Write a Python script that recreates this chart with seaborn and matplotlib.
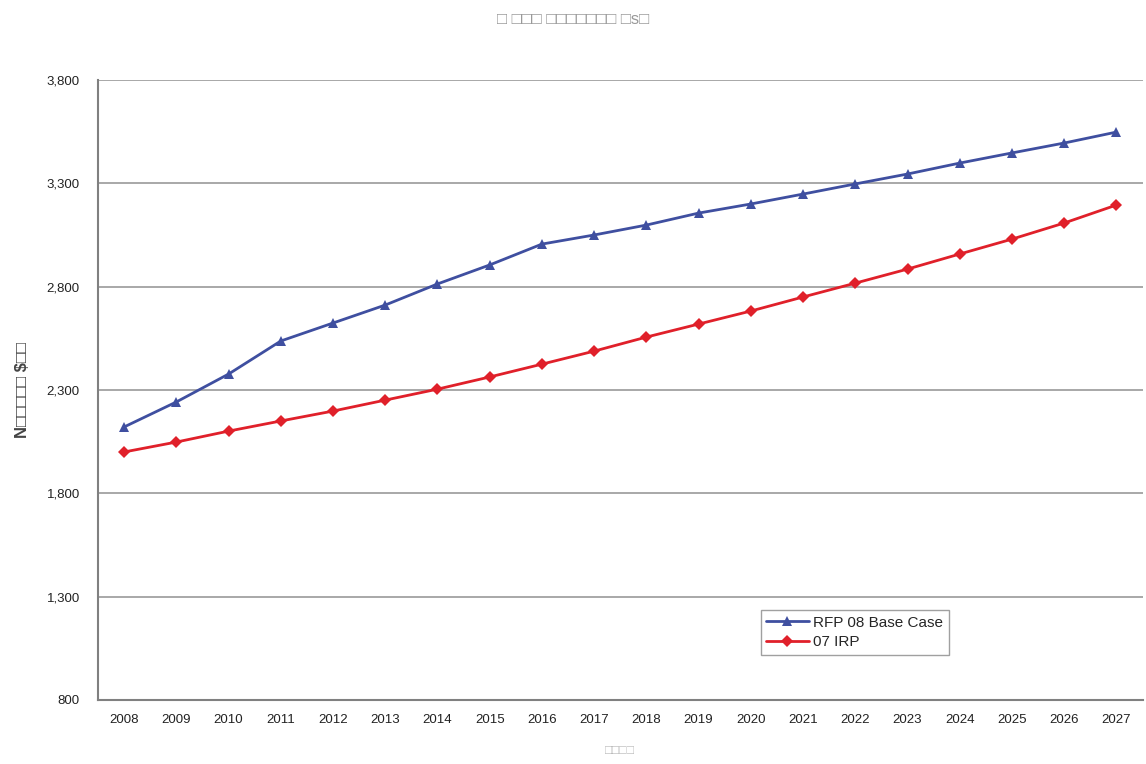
import matplotlib
matplotlib.use("Agg")
import matplotlib.pyplot as plt
import seaborn as sns
import pandas as pd

years = list(range(2008, 2028))
rfp08_base = [2121, 2242, 2377, 2537, 2624, 2711, 2813, 2905, 3006, 3050,
              3098, 3156, 3200, 3248, 3297, 3345, 3398, 3447, 3495, 3548]
irp07 = [2000, 2048, 2101, 2150, 2198, 2251, 2304, 2363, 2425, 2488,
         2556, 2619, 2682, 2750, 2817, 2885, 2958, 3030, 3108, 3195]
series_names = ["RFP 08 Base Case", "07 IRP"]
y_ticks = [800, 1300, 1800, 2300, 2800, 3300, 3800]
title_text = "\u25a1 \u25a1\u25a1\u25a1 \u25a1\u25a1\u25a1\u25a1\u25a1\u25a1\u25a1 \u25a1s\u25a1"
ylabel_text = "N\u25a1\u25a1\u25a1\u25a1\u25a1 $\u25a1\u25a1"
xlabel_text = "\u25a1\u25a1\u25a1\u25a1"

df = pd.DataFrame({
    "Year": years * 2,
    "Value": rfp08_base + irp07,
    "Series": [series_names[0]] * len(years) + [series_names[1]] * len(years),
})

sns.set_style("white")
plt.rcParams["font.family"] = ["Liberation Sans", "DejaVu Sans"]

fig = plt.figure(figsize=(11.46, 7.64), dpi=100)
ax = fig.add_axes([0.0855, 0.0838, 0.9115, 0.8115])

palette = {series_names[0]: "#3F4FA0", series_names[1]: "#E0202A"}
markers = {series_names[0]: "^", series_names[1]: "D"}
sns.lineplot(data=df, x="Year", y="Value", hue="Series", style="Series",
             palette=palette, markers=markers, dashes=False, linewidth=2,
             markersize=6.5, markeredgewidth=0, ax=ax)

ax.set_xlim(2007.5, 2027.5)
ax.set_ylim(800, 3800)
ax.set_yticks(y_ticks)
ax.set_yticklabels([f"{v:,}" for v in y_ticks], fontsize=9.5, color="#222222")
ax.set_xticks(years)
ax.set_xticklabels([str(y) for y in years], fontsize=9.5, color="#222222")
ax.yaxis.grid(True, color="#9a9a9a", linewidth=1.2)
ax.xaxis.grid(False)
for s in ["top", "right"]:
    ax.spines[s].set_visible(False)
ax.spines["left"].set_color("#808080")
ax.spines["left"].set_linewidth(1.5)
ax.spines["bottom"].set_color("#808080")
ax.spines["bottom"].set_linewidth(1.5)
ax.tick_params(axis="y", direction="out", length=5, color="#808080", pad=8)
ax.tick_params(axis="x", length=0, pad=10)

ax.set_xlabel(xlabel_text, fontsize=9, color="#bbbbbb", labelpad=14)
ax.set_ylabel(ylabel_text, fontsize=12, color="#444444", fontweight="bold", labelpad=12)
fig.text(0.5, 0.975, title_text, ha="center", va="center", fontsize=12, color="#999999")

leg = ax.legend(loc="lower left", bbox_to_anchor=(0.627, 0.061), fontsize=11,
                frameon=True, fancybox=False, edgecolor="#888888",
                handlelength=2.8, handletextpad=0.3, borderpad=0.35,
                labelspacing=0.35)
leg.get_frame().set_linewidth(1)

fig.savefig("out.png", dpi=100)
